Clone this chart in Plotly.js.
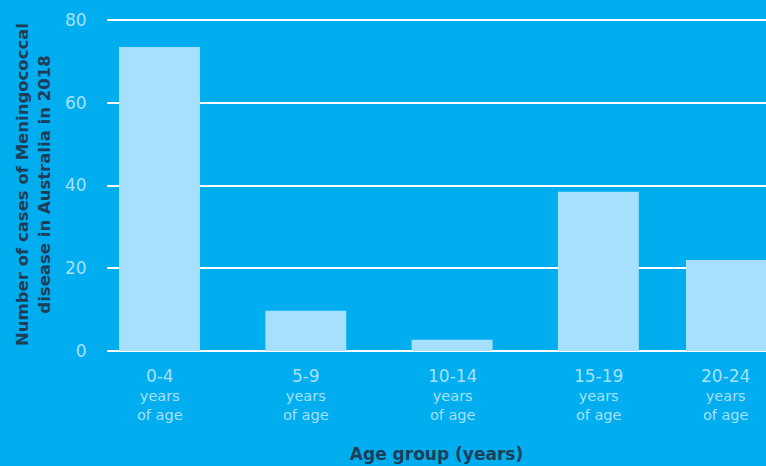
<!DOCTYPE html>
<html>
<head>
<meta charset="utf-8">
<script src="https://cdn.plot.ly/plotly-3.0.1.min.js"></script>
<style>html,body{margin:0;padding:0;background:#00AEEF;}#chart{width:766px;height:466px;}</style>
</head>
<body>
<div id="chart"></div>
<script>
// Data
const ageGroups = ["0-4", "5-9", "10-14", "15-19", "20-24"];
const ageSubLabel = ["years", "of age"];
const cases = [73.5, 9.7, 2.7, 38.5, 22];
const yTicks = [0, 20, 40, 60, 80];

const bg = "#00AEEF";
const barColor = "#A6E0FD";
const tickColor = "#A6E0FD";
const titleColor = "#1E3D59";
const fontFam = "DejaVu Sans, Open Sans, sans-serif";

const bw = 0.553;
const offsets = ageGroups.map((g, i) => i === ageGroups.length - 1 ? -0.401 : -bw / 2);
const widths = ageGroups.map((g, i) => i === ageGroups.length - 1 ? 0.547 : bw);

const trace = {
  type: "bar",
  x: ageGroups,
  y: cases,
  width: widths,
  offset: offsets,
  marker: {color: barColor, line: {width: 0}},
  hoverinfo: "x+y"
};

const annotations = ageGroups.map((g, i) => ({
  x: g, xref: "x", y: 0, yref: "y",
  yanchor: "top", xanchor: "center", yshift: -13,
  xshift: i === ageGroups.length - 1 ? -19 : 0,
  showarrow: false, align: "center",
  text: '<span style="font-size:17px">' + g + '</span><br>' + ageSubLabel.join('<br>'),
  font: {family: fontFam, size: 14.5, color: tickColor}
}));

const layout = {
  width: 766, height: 466,
  paper_bgcolor: bg, plot_bgcolor: bg,
  margin: {l: 107, r: 0, t: 18, b: 115},
  showlegend: false,
  font: {family: fontFam},
  xaxis: {
    type: "category",
    range: [-0.359, 4.146],
    showgrid: false, zeroline: false, showline: false,
    showticklabels: false, ticks: "",
    title: {text: "<b>Age group (years)</b>", font: {family: fontFam, size: 17, color: titleColor}, standoff: 97},
    automargin: false
  },
  yaxis: {
    range: [0, 80.5],
    tickvals: yTicks,
    ticktext: yTicks.map(String),
    showgrid: true, gridcolor: "#FFFFFF", gridwidth: 2,
    zeroline: true, zerolinecolor: "#FFFFFF", zerolinewidth: 2,
    showline: false,
    ticks: "outside", ticklen: 16, tickcolor: "rgba(0,0,0,0)",
    tickfont: {family: fontFam, size: 17, color: tickColor},
    title: {text: "<b>Number of cases of Meningococcal<br>disease in Australia in 2018</b>", font: {family: fontFam, size: 16.5, color: titleColor}, standoff: 10},
    automargin: false
  },
  annotations: annotations
};

Plotly.newPlot("chart", [trace], layout, {displayModeBar: false, staticPlot: true});
</script>
</body>
</html>
